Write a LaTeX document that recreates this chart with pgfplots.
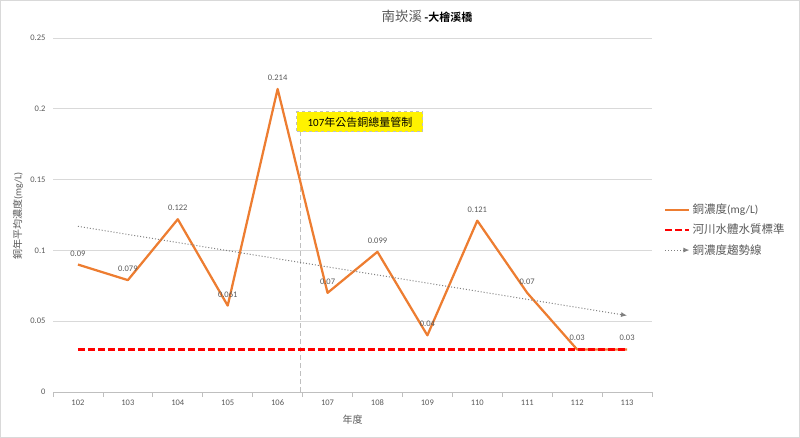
\documentclass[border=0pt]{standalone}
\usepackage{fontspec}
\setmainfont{Carlito}
\newfontfamily\cjk{Noto Sans CJK TC}
\newfontfamily\cjkb{Noto Sans CJK TC Bold}
\usepackage{pgfplots}
\pgfplotsset{compat=1.18}
\usetikzlibrary{arrows.meta}
\definecolor{txt}{HTML}{595959}
\definecolor{gridc}{HTML}{D9D9D9}
\definecolor{axc}{HTML}{BFBFBF}
\definecolor{org}{HTML}{ED7D31}
\definecolor{trend}{HTML}{7F7F7F}
\begin{document}
\begin{tikzpicture}[x=1pt,y=1pt]
\path (0,0) rectangle (800,438);
\draw[draw=gridc, line width=0.8pt] (0.4,0.4) rectangle (799.6,437.6);
\begin{axis}[
  at={(53pt,46pt)}, anchor=south west,
  scale only axis, width=599pt, height=354pt,
  xmin=101.5, xmax=113.5, ymin=0, ymax=0.25,
  xtick={102,103,104,105,106,107,108,109,110,111,112,113},
  minor xtick={101.5,102.5,103.5,104.5,105.5,106.5,107.5,108.5,109.5,110.5,111.5,112.5,113.5},
  ytick={0,0.05,0.1,0.15,0.2,0.25},
  yticklabels={0,0.05,0.1,0.15,0.2,0.25},
  /pgf/number format/assume math mode=true,
  /pgf/number format/1000 sep={},
  tick label style={font=\fontsize{8.5}{10}\selectfont, text=txt},
  xticklabel style={yshift=-4pt},
  yticklabel style={xshift=-4pt},
  ymajorgrids, grid style={draw=gridc, line width=0.75pt},
  axis x line*=bottom, axis y line*=left,
  x axis line style={draw=axc, line width=0.75pt, -},
  y axis line style={draw=none},
  major tick length=0pt, minor tick length=5pt, tick align=outside,
  minor tick style={draw=axc, line width=0.75pt},
  legend style={at={(1.015,0.458)}, anchor=west, draw=none, fill=none,
    font=\fontsize{11.5}{13}\selectfont, text=txt, row sep=5pt},
  legend cell align=left,
  legend image code/.code={\draw[#1] (0pt,0pt) -- (24pt,0pt);},
  clip=false,
]
\addplot[axc, line width=1pt, dash pattern=on 5pt off 3pt, forget plot]
  coordinates {(106.45,0) (106.45,0.184)};
\addplot[org, line width=2.25pt, line join=round,
  nodes near coords, point meta=explicit symbolic,
  nodes near coords style={font=\fontsize{8.5}{10}\selectfont, text=txt, anchor=south, yshift=4pt}]
  table[meta=l] {
x y l
102 0.09 0.09
103 0.079 0.079
104 0.122 0.122
105 0.061 0.061
106 0.214 0.214
107 0.07 0.07
108 0.099 0.099
109 0.04 0.04
110 0.121 0.121
111 0.07 0.07
112 0.03 0.03
113 0.03 0.03
};
\addlegendentry{{\cjk 銅濃度}(mg/L)}
\addplot[red, line width=2.5pt, dash pattern=on 7pt off 3pt]
  coordinates {(102,0.03) (113,0.03)};
\addlegendentry{{\cjk 河川水體水質標準}}
\addplot[trend, line width=1pt, dotted, -{Latex[length=6pt,width=5pt]}]
  coordinates {(102,0.117) (113,0.054)};
\addlegendentry{{\cjk 銅濃度趨勢線}}
\node[fill=yellow, draw=axc, dashed, line width=1pt, minimum width=126pt,
  minimum height=20pt, inner sep=2pt, font=\fontsize{11}{13}\selectfont]
  at (axis cs:107.65,0.1907) {107{\cjk 年公告銅總量管制}};
\end{axis}
\node[font=\fontsize{10}{12}\selectfont, text=txt, rotate=90] at (18,222) {{\cjk 銅年平均濃度}(mg/L)};
\node[font=\fontsize{10}{12}\selectfont, text=txt] at (352.5,18) {\cjk 年度};
\node[anchor=base] at (427,416) {{\fontsize{13.5}{15}\selectfont\cjk\color{txt}南崁溪} {\fontsize{11}{13}\selectfont\cjkb -大檜溪橋}};
\end{tikzpicture}
\end{document}
